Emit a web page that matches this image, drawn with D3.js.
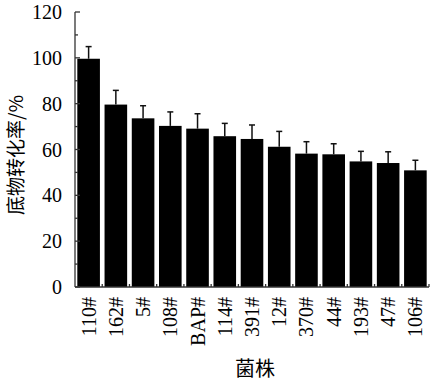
<!DOCTYPE html>
<html>
<head>
<meta charset="utf-8">
<script src="https://cdn.jsdelivr.net/npm/d3@7"></script>
<style>
  body { margin: 0; background: #fff; }
  svg { display: block; }
</style>
</head>
<body>
<div id="chart"></div>
<script>
// Data
const strains = ['110#', '162#', '5#', '108#', 'BAP#', '114#', '391#', '12#', '370#', '44#', '193#', '47#', '106#'];
const rates = [99.6, 79.6, 73.6, 70.3, 69.1, 65.8, 64.6, 61.2, 58.2, 57.9, 54.8, 54.1, 50.9];
const errors = [5.3, 6.2, 5.5, 6.1, 6.5, 5.6, 6.1, 6.7, 5.2, 4.6, 4.4, 4.9, 4.4];
const yTicks = [0, 20, 40, 60, 80, 100, 120];
const yMinorTicks = [10, 30, 50, 70, 90, 110];

const W = 430, H = 381;
const margin = { top: 12, right: 1, bottom: 94, left: 75 };
const serif = '"Liberation Serif", "Times New Roman", serif';
const cjk = '"Noto Sans CJK SC", sans-serif';

const svg = d3.select('#chart').append('svg').attr('width', W).attr('height', H);

const x = d3.scaleBand().domain(strains)
  .range([margin.left, W - margin.right]).paddingInner(0.17).paddingOuter(0.085);
const y = d3.scaleLinear().domain([0, 120]).range([H - margin.bottom, margin.top]);
const step = x.step();

// Bars
svg.append('g').selectAll('rect')
  .data(strains)
  .join('rect')
  .attr('x', d => x(d))
  .attr('y', (d, i) => y(rates[i]))
  .attr('width', x.bandwidth())
  .attr('height', (d, i) => y(0) - y(rates[i]))
  .attr('fill', '#000');

// Error bars (upper only)
const eb = svg.append('g').attr('stroke', '#111').attr('stroke-width', 1.5);
strains.forEach((s, i) => {
  const cx = x(s) + x.bandwidth() / 2;
  eb.append('line').attr('x1', cx).attr('x2', cx)
    .attr('y1', y(rates[i])).attr('y2', y(rates[i] + errors[i]));
  eb.append('line').attr('x1', cx - 3).attr('x2', cx + 3)
    .attr('y1', y(rates[i] + errors[i])).attr('y2', y(rates[i] + errors[i]));
});

// Y axis
const yAxis = svg.append('g').attr('stroke', '#333').attr('stroke-width', 1.3);
yAxis.append('line').attr('x1', margin.left).attr('x2', margin.left)
  .attr('y1', y(0)).attr('y2', y(120));
yTicks.forEach(t => {
  yAxis.append('line').attr('x1', margin.left).attr('x2', margin.left + 5)
    .attr('y1', y(t)).attr('y2', y(t));
});
yMinorTicks.forEach(t => {
  yAxis.append('line').attr('x1', margin.left).attr('x2', margin.left + 3)
    .attr('y1', y(t)).attr('y2', y(t));
});
svg.append('g').selectAll('text')
  .data(yTicks)
  .join('text')
  .attr('x', margin.left - 13)
  .attr('y', d => y(d))
  .attr('dy', '0.35em')
  .attr('text-anchor', 'end')
  .attr('font-family', serif)
  .attr('font-size', 20)
  .attr('fill', '#000')
  .text(d => d);

// X axis
const xAxis = svg.append('g').attr('stroke', '#333').attr('stroke-width', 1.3);
xAxis.append('line').attr('x1', margin.left).attr('x2', W - margin.right)
  .attr('y1', y(0)).attr('y2', y(0));
strains.forEach((s, i) => {
  const tx = margin.left + (i + 1) * step;
  xAxis.append('line').attr('x1', tx).attr('x2', tx)
    .attr('y1', y(0)).attr('y2', y(0) - 3);
});
svg.append('g').selectAll('text')
  .data(strains)
  .join('text')
  .attr('transform', d => `translate(${x(d) + x.bandwidth() / 2 + 7},${y(0) + 10}) rotate(-90)`)
  .attr('text-anchor', 'end')
  .attr('font-family', serif)
  .attr('font-size', 20)
  .attr('fill', '#000')
  .text(d => d);

// Axis titles
svg.append('text')
  .attr('x', 255).attr('y', 376)
  .attr('text-anchor', 'middle')
  .attr('font-family', cjk)
  .attr('font-size', 20)
  .attr('fill', '#000')
  .text('菌株');
svg.append('text')
  .attr('transform', `translate(23,155) rotate(-90)`)
  .attr('text-anchor', 'middle')
  .attr('font-family', cjk)
  .attr('font-size', 19)
  .attr('fill', '#000')
  .text('底物转化率/%');
</script>
</body>
</html>
